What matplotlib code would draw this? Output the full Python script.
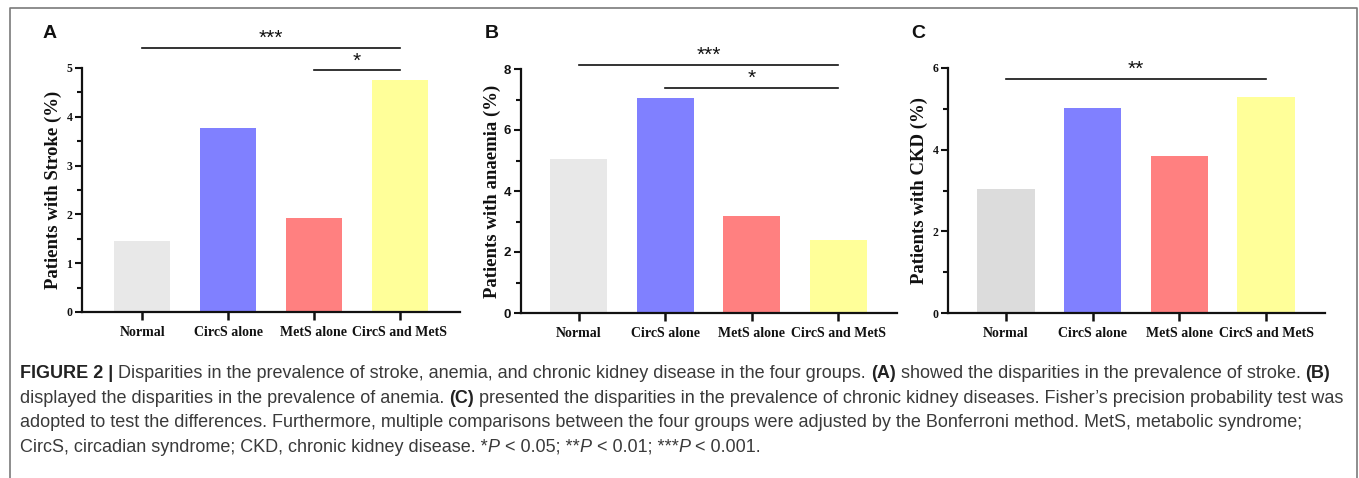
import matplotlib
matplotlib.use("Agg")
import matplotlib.pyplot as plt
from matplotlib.ticker import MultipleLocator
from matplotlib.lines import Line2D

W, H = 1359, 478

categories = ["Normal", "CircS alone", "MetS alone", "CircS and MetS"]
stroke = [1.45, 3.78, 1.93, 4.75]
anaemia = [5.04, 7.04, 3.18, 2.39]
ckd = [3.04, 5.01, 3.85, 5.30]

colors_ab = ["#e8e8e8", "#8080ff", "#ff8080", "#ffff99"]
colors_c = ["#dcdcdc", "#8080ff", "#ff8080", "#ffff99"]

panel_labels = ["A", "B", "C"]
ylabels = ["Patients with Stroke (%)", "Patients with anaemia (%)", "Patients with CKD (%)"]

# significance: (i, j, y, text)
sig_a = [(0, 3, 5.42, "***"), (2, 3, 4.95, "*")]
sig_b = [(0, 3, 8.13, "***"), (1, 3, 7.38, "*")]
sig_c = [(0, 3, 5.73, "**")]

SERIF = ["Liberation Serif", "DejaVu Serif"]
SANS = ["Liberation Sans", "DejaVu Sans"]

fig = plt.figure(figsize=(W / 100, H / 100), dpi=100)

# frame border (open at the bottom)
bx0, bx1, by = 10 / W, 1357 / W, 1 - 8 / H
fig.add_artist(Line2D([bx0, bx0, bx1, bx1], [0, by, by, 0], transform=fig.transFigure,
                      color="#7a7a7a", linewidth=1.2))

def px_axes(l, r, b, t):
    return [l / W, 1 - b / H, (r - l) / W, (b - t) / H]

specs = [
    dict(rect=px_axes(82, 460, 312, 68), vals=stroke, ymax=5, major=1, minor=0.5,
         xlim=(-0.70, 3.70), cols=colors_ab, sig=sig_a, tickfont=SERIF, lx=50),
    dict(rect=px_axes(521, 897, 313, 69), vals=anaemia, ymax=8, major=2, minor=1,
         xlim=(-0.67, 3.68), cols=colors_ab, sig=sig_b, tickfont=SANS, lx=492),
    dict(rect=px_axes(948, 1325, 313, 68), vals=ckd, ymax=6, major=2, minor=1,
         xlim=(-0.67, 3.68), cols=colors_c, sig=sig_c, tickfont=SERIF, lx=918),
]

for k, sp in enumerate(specs):
    ax = fig.add_axes(sp["rect"])
    x = list(range(len(categories)))
    ax.bar(x, sp["vals"], width=0.66, color=sp["cols"], edgecolor="none", zorder=2)
    ax.set_xlim(*sp["xlim"])
    ax.set_ylim(0, sp["ymax"])
    for s in ("top", "right"):
        ax.spines[s].set_visible(False)
    for s in ("left", "bottom"):
        ax.spines[s].set_linewidth(1.6)
        ax.spines[s].set_color("#111111")
    ax.yaxis.set_major_locator(MultipleLocator(sp["major"]))
    ax.yaxis.set_minor_locator(MultipleLocator(sp["minor"]))
    ax.tick_params(axis="y", which="major", length=5, width=1.5, pad=2, color="#111111")
    ax.tick_params(axis="y", which="minor", length=3.5, width=1.5, color="#111111")
    ax.tick_params(axis="x", which="major", length=6, width=1.8, pad=4, color="#111111")
    ax.set_xticks(x)
    ax.set_xticklabels(categories, fontfamily=SERIF, fontweight="bold", fontsize=10, color="#111111")
    for lab in ax.get_yticklabels():
        lab.set_fontfamily(sp["tickfont"])
        lab.set_fontweight("bold")
        lab.set_fontsize(8.5 if sp["tickfont"] is SERIF else 9.5)
        lab.set_color("#111111")
    ax.set_ylabel(ylabels[k], fontfamily=SERIF, fontweight="bold", fontsize=13.5,
                  color="#111111", va="center")
    ax.yaxis.set_label_coords(-29 / (sp["rect"][2] * W), 0.5)
    for (i, j, yv, txt) in sp["sig"]:
        ax.plot([i, j], [yv, yv], color="#111111", linewidth=1.2, clip_on=False, zorder=3)
        ax.annotate(txt, xy=((i + j) / 2, yv), xytext=(0, 0), textcoords="offset points",
                    ha="center", va="bottom", fontsize=15, fontfamily=SANS,
                    color="#111111", annotation_clip=False)
    fig.text(sp["lx"] / W, 1 - 33 / H, panel_labels[k], fontfamily=SANS, fontweight="bold",
             fontsize=14, ha="center", va="center", color="#111111")

# caption with mixed styles
renderer = fig.canvas.get_renderer()
CAP_SIZE = 13.0
CAP_COLOR = "#3a3a3a"

def rich_line(x_px, y_px, parts):
    xcur = x_px
    for text, style in parts:
        kw = dict(fontfamily=SANS, fontsize=CAP_SIZE, color=CAP_COLOR, va="baseline", ha="left")
        if "b" in style:
            kw["fontweight"] = "bold"
            kw["color"] = "#222222"
        if "i" in style:
            kw["fontstyle"] = "italic"
        t = fig.text(xcur / W, 1 - y_px / H, text, **kw)
        bb = t.get_window_extent(renderer)
        xcur = bb.x1

lines = [
    [("FIGURE 2 |", "b"), (" Disparities in the prevalence of stroke, anemia, and chronic kidney disease in the four groups. ", ""),
     ("(A)", "b"), (" showed the disparities in the prevalence of stroke. ", ""), ("(B)", "b")],
    [("displayed the disparities in the prevalence of anemia. ", ""), ("(C)", "b"),
     (" presented the disparities in the prevalence of chronic kidney diseases. Fisher\u2019s precision probability test was", "")],
    [("adopted to test the differences. Furthermore, multiple comparisons between the four groups were adjusted by the Bonferroni method. MetS, metabolic syndrome;", "")],
    [("CircS, circadian syndrome; CKD, chronic kidney disease. *", ""), ("P", "i"), (" < 0.05; **", ""), ("P", "i"),
     (" < 0.01; ***", ""), ("P", "i"), (" < 0.001.", "")],
]
ys = [378, 403, 427, 452]
for ln, yy in zip(lines, ys):
    rich_line(20, yy, ln)

fig.savefig("out.png", dpi=100)
